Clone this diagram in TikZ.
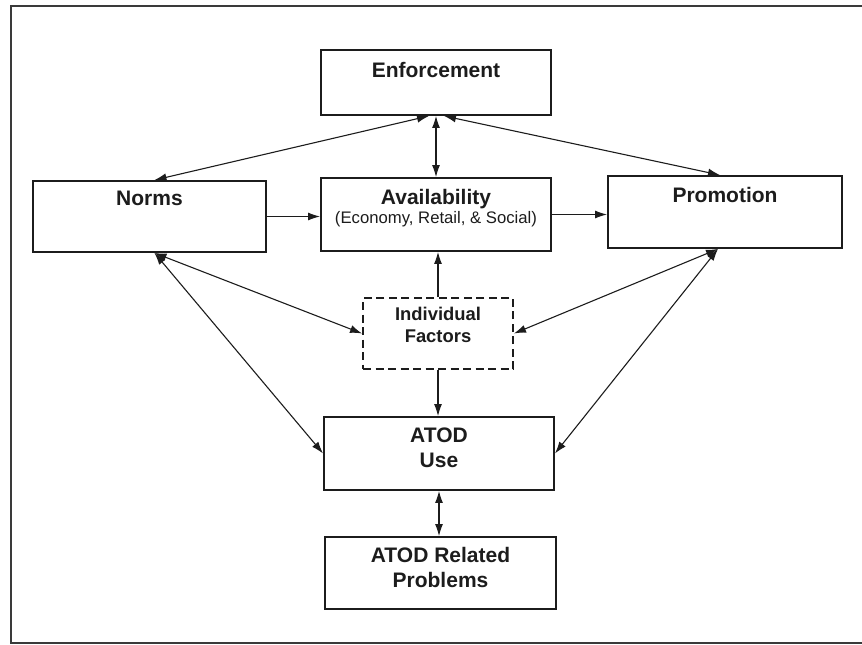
\documentclass[tikz,border=0pt]{standalone}
\usepackage{fontspec}
\setmainfont{Liberation Sans}
\usepackage{xcolor}
\usepackage{tikz}
\usetikzlibrary{arrows.meta}
\definecolor{InkBlack}{HTML}{1C1C1C}
\definecolor{FrameGrey}{HTML}{3A3A3A}

\begin{document}
\begin{tikzpicture}[x=1pt, y=-1pt,
    >={Latex[length=12pt,width=8pt]},
    box/.style={draw=InkBlack, line width=1.9pt, inner sep=0pt, minimum width=230pt},
    dashbox/.style={box, dash pattern=on 8pt off 4.5pt},
    lbl/.style={anchor=north, inner sep=0pt, align=center, text=InkBlack,
                font=\bfseries\fontsize{21}{25}\selectfont},
    link/.style={draw=InkBlack, line width=1.1pt}]
      \useasboundingbox (0,0) rectangle (862,645);
      \draw[FrameGrey, line width=1.3pt] (863,6) -- (11,6) -- (11,643) -- (863,643);

      \node[box, minimum height=65pt,
            label={[lbl, yshift=-13pt]north:Enforcement}] (enf) at (436,82.5) {};
      \node[box, minimum width=233pt, minimum height=71pt,
            label={[lbl, yshift=-11pt]north:Norms}] (norms) at (149.5,216.5) {};
      \node[box, minimum height=73pt,
            label={[lbl, yshift=-12pt, font=\bfseries\fontsize{21}{19}\selectfont]north:{Availability\\
              {\mdseries\fontsize{16.7}{19}\selectfont (Economy, Retail, \& Social)}}}] (avail) at (436,214.5) {};
      \node[box, minimum width=234pt, minimum height=72pt,
            label={[lbl, yshift=-12pt]north:Promotion}] (promo) at (725,212) {};
      \node[dashbox, minimum width=150pt, minimum height=71pt,
            label={[lbl, yshift=-10pt, font=\bfseries\fontsize{18.4}{22}\selectfont]north:Individual\\Factors}] (indiv) at (438,333.5) {};
      \node[box, minimum height=73pt,
            label={[lbl, yshift=-12pt]north:ATOD\\Use}] (use) at (439,453.5) {};
      \node[box, minimum width=231pt, minimum height=72pt,
            label={[lbl, yshift=-11pt]north:ATOD Related\\Problems}] (probs) at (440.5,573) {};

      % links
      \draw[<->, link] ([xshift=-7pt]enf.south) -- ([xshift=5pt]norms.north);
      \draw[<->, link] (enf.south) -- (avail.north);
      \draw[<->, link] ([xshift=8pt]enf.south) -- ([xshift=-5pt]promo.north);
      \draw[->, link] (norms.east) -- (norms.east -| avail.west);
      \draw[->, link] (avail.east) -- (avail.east -| promo.west);
      \draw[->, link] (indiv.north) -- (indiv.north |- avail.south);
      \draw[<->, link] ([xshift=5pt]norms.south) -- (indiv.west);
      \draw[<->, link] ([xshift=-7pt]promo.south) -- (indiv.east);
      \draw[<->, link] ([xshift=5pt]norms.south) -- (use.west);
      \draw[<->, link] ([xshift=-7pt]promo.south) -- (use.east);
      \draw[->, link] (indiv.south) -- (indiv.south |- use.north);
      \draw[<->, link] (use.south) -- (use.south |- probs.north);
    \end{tikzpicture}
\end{document}
